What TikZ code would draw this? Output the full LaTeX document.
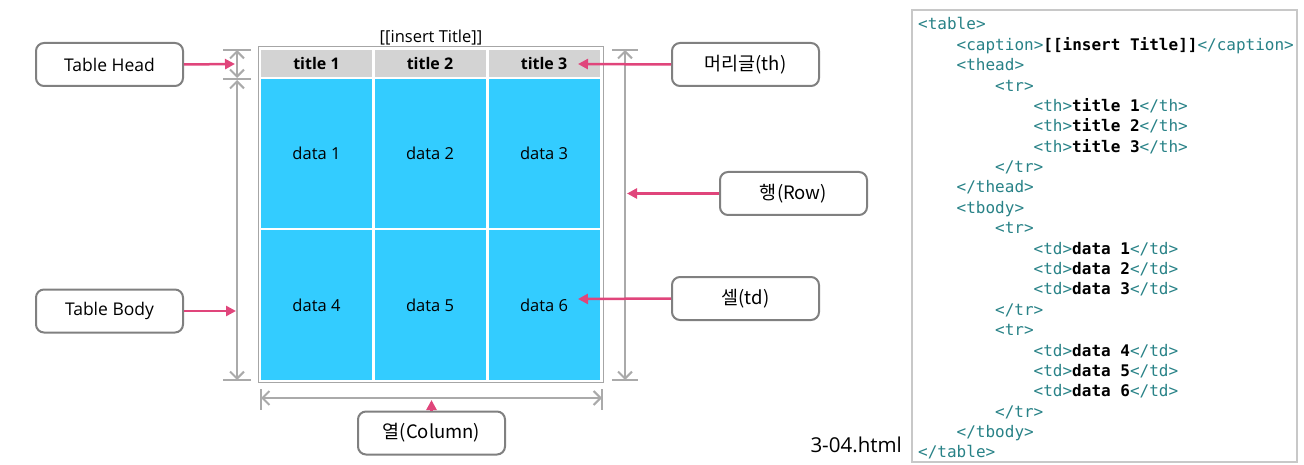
\documentclass[tikz,border=0pt]{standalone}
\usepackage{fontspec}
\setmainfont{Open Sans}
\newfontfamily\krfont{Noto Sans CJK KR}
\setmonofont{DejaVu Sans Mono}
\usetikzlibrary{arrows.meta}
\definecolor{cellblue}{RGB}{51,204,255}
\definecolor{headgray}{RGB}{211,211,211}
\definecolor{dimgray}{RGB}{170,170,170}
\definecolor{boxgray}{RGB}{128,128,128}
\definecolor{pinkc}{RGB}{224,69,123}
\definecolor{tagc}{RGB}{40,130,135}
\definecolor{codeborder}{RGB}{200,200,200}
\newcommand\tagtxt[1]{\textcolor{tagc}{#1}}
\newcommand\cnt[1]{\textbf{#1}}
\tikzset{
  label/.style={draw=boxgray, line width=2pt, rounded corners=8pt, fill=white,
    minimum width=147pt, minimum height=43pt, inner sep=0pt, font=\fontsize{17.5}{20}\selectfont},
  krlabel/.style={label, font=\fontsize{18.5}{20}\krfont},
  hcell/.style={fill=headgray, minimum width=111pt, minimum height=27pt, inner sep=0pt,
    font=\fontsize{16}{18}\selectfont\bfseries},
  bcell/.style={fill=cellblue, minimum width=111pt, minimum height=149pt, inner sep=0pt,
    font=\fontsize{16.5}{18}\selectfont},
  dim/.style={draw=dimgray, line width=2.5pt, {Straight Barb[length=7pt,width=14pt,line width=2pt]}-{Straight Barb[length=7pt,width=14pt,line width=2pt]}},
  tick/.style={draw=dimgray, line width=2.5pt},
  parrow/.style={draw=pinkc, line width=2.5pt, -{Triangle[length=10pt,width=10pt]}},
  codeline/.style={anchor=base west, inner sep=0pt, font=\fontsize{16}{18}\ttfamily}
}
\begin{document}
\begin{tikzpicture}[x=1pt,y=-1pt]
\useasboundingbox (0,0) rectangle (1304,465);
% table frame
\node[draw=gray!70, line width=1pt, fill=white, minimum width=345pt, minimum height=335pt, inner sep=0pt] (frame) at (430.5,214.5) {};
\node[font=\fontsize{16.5}{18}\selectfont, inner sep=0pt] (cap) at (431,38) {[[insert Title]]};
% header cells
\node[hcell] (h1) at (316.5,63.5) {title 1};
\node[hcell] (h2) at (430,63.5) {title 2};
\node[hcell] (h3) at (544,63.5) {title 3};
% body cells
\node[bcell] (d1) at (316.5,153.5) {data 1};
\node[bcell] (d2) at (430,153.5) {data 2};
\node[bcell] (d3) at (544,153.5) {data 3};
\node[bcell, minimum height=150pt] (d4) at (316.5,305) {data 4};
\node[bcell, minimum height=150pt] (d5) at (430,305) {data 5};
\node[bcell, minimum height=150pt] (d6) at (544,305) {data 6};
% dimension coordinates
\coordinate (lt) at (237,50);
\coordinate (lm) at (237,78);
\coordinate (lm2) at (237,80);
\coordinate (lb) at (237,380);
\coordinate (rt) at (625,50);
\coordinate (rb) at (625,380);
\coordinate (bl) at (261,398);
\coordinate (br) at (602,398);
\draw[tick] (223,50) -- (251,50);
\draw[tick] (223,79) -- (251,79);
\draw[tick] (223,380) -- (251,380);
\draw[tick] (612,50) -- (638,50);
\draw[tick] (612,380) -- (638,380);
\draw[tick] (261,389) -- (261,410);
\draw[tick] (602,389) -- (602,410);
\draw[dim] (lt) -- (lm);
\draw[dim] (lm2) -- (lb);
\draw[dim] (rt) -- (rb);
\draw[dim] (bl) -- (br);
% labels
\node[label] (thead) at (109.5,64.5) {Table Head};
\node[label] (tbody) at (109.5,311) {Table Body};
\node[krlabel] (th) at (745.5,64.5) {머리글(th)};
\node[krlabel] (row) at (793.5,193.5) {행(Row)};
\node[krlabel] (td) at (745.5,298.5) {셀(td)};
\node[krlabel] (col) at (431.5,433) {열(Column)};
% pink arrow targets
\coordinate (theadT) at (235,64);
\coordinate (tbodyT) at (236,311);
\coordinate (thT) at (578,64);
\coordinate (rowT) at (627,193.5);
\coordinate (tdT) at (578,299);
\coordinate (colT) at (431.5,400);
\draw[parrow] (thead.east) -- (theadT);
\draw[parrow] (tbody.east) -- (tbodyT);
\draw[parrow] (th.west) -- (thT);
\draw[parrow] (row.west) -- (rowT);
\draw[parrow] (td.west) -- (tdT);
\draw[parrow] (col.north) -- (colT);
% file name
\node[anchor=base east, inner sep=0pt, font=\fontsize{20.5}{22}\selectfont] (fname) at (902,452) {3-04.html};
% code box
\node[draw=codeborder, line width=1.2pt, fill=white, minimum width=385pt, minimum height=452pt, inner sep=0pt] (code) at (1104.5,236) {};
\node[codeline] (c1) at (918,30) {\tagtxt{<table>}};
\node[codeline] (c2) at (956.5,50.4) {\tagtxt{<caption>}\cnt{[[insert Title]]}\tagtxt{</caption>}};
\node[codeline] (c3) at (956.5,70.8) {\tagtxt{<thead>}};
\node[codeline] (c4) at (995,91.1) {\tagtxt{<tr>}};
\node[codeline] (c5) at (1033.5,111.5) {\tagtxt{<th>}\cnt{title 1}\tagtxt{</th>}};
\node[codeline] (c6) at (1033.5,131.9) {\tagtxt{<th>}\cnt{title 2}\tagtxt{</th>}};
\node[codeline] (c7) at (1033.5,152.3) {\tagtxt{<th>}\cnt{title 3}\tagtxt{</th>}};
\node[codeline] (c8) at (995,172.7) {\tagtxt{</tr>}};
\node[codeline] (c9) at (956.5,193) {\tagtxt{</thead>}};
\node[codeline] (c10) at (956.5,213.4) {\tagtxt{<tbody>}};
\node[codeline] (c11) at (995,233.8) {\tagtxt{<tr>}};
\node[codeline] (c12) at (1033.5,254.2) {\tagtxt{<td>}\cnt{data 1}\tagtxt{</td>}};
\node[codeline] (c13) at (1033.5,274.6) {\tagtxt{<td>}\cnt{data 2}\tagtxt{</td>}};
\node[codeline] (c14) at (1033.5,294.9) {\tagtxt{<td>}\cnt{data 3}\tagtxt{</td>}};
\node[codeline] (c15) at (995,315.3) {\tagtxt{</tr>}};
\node[codeline] (c16) at (995,335.7) {\tagtxt{<tr>}};
\node[codeline] (c17) at (1033.5,356.1) {\tagtxt{<td>}\cnt{data 4}\tagtxt{</td>}};
\node[codeline] (c18) at (1033.5,376.5) {\tagtxt{<td>}\cnt{data 5}\tagtxt{</td>}};
\node[codeline] (c19) at (1033.5,396.8) {\tagtxt{<td>}\cnt{data 6}\tagtxt{</td>}};
\node[codeline] (c20) at (995,417.2) {\tagtxt{</tr>}};
\node[codeline] (c21) at (956.5,437.6) {\tagtxt{</tbody>}};
\node[codeline] (c22) at (918,457) {\tagtxt{</table>}};
\end{tikzpicture}
\end{document}
